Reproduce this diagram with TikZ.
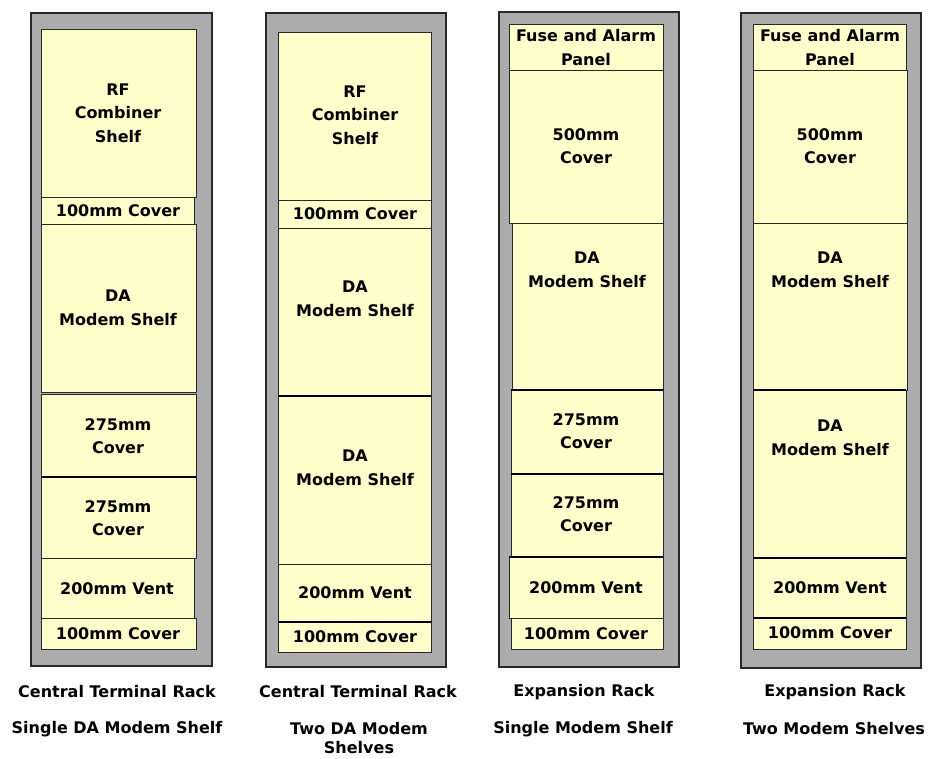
\documentclass[tikz,border=0pt]{standalone}
\usepackage{fontspec}
\setmainfont{DejaVu Sans}
\definecolor{rackgray}{RGB}{172,172,172}
\definecolor{shelfyellow}{RGB}{255,255,204}
\definecolor{edge}{RGB}{40,40,40}
\tikzset{
  rackframe/.style={draw=edge, line width=1.4pt, fill=rackgray},
  shelfbox/.style={draw=edge, line width=0.9pt, fill=shelfyellow},
  sepline/.style={draw=black, line width=2pt},
  lbl/.style={align=center, inner sep=0pt, font=\fontsize{16}{23.5}\selectfont\bfseries},
  caption/.style={align=center, inner sep=0pt, font=\fontsize{16}{19}\selectfont\bfseries}
}
\begin{document}
\begin{tikzpicture}[x=1pt,y=-1pt]
\useasboundingbox (0,0) rectangle (931,758);
\fill[white] (0,0) rectangle (931,758);

% ---------- Rack 1 ----------
\draw[rackframe] (31,13) rectangle (212,666);
\draw[shelfbox] (41,29) rectangle (196,197);
\node[lbl] (r1rf) at (118,113) {RF\\Combiner\\Shelf};
\draw[shelfbox] (41,197) rectangle (194,224);
\node[lbl] (r1c100a) at (118,211) {100mm Cover};
\draw[shelfbox] (41,224) rectangle (196,392);
\node[lbl] (r1da) at (118,308) {DA\\Modem Shelf};
\draw[shelfbox] (41,394) rectangle (196,477);
\node[lbl] (r1c275a) at (118,436) {275mm\\Cover};
\draw[shelfbox] (41,477) rectangle (196,558);
\draw[sepline] (41,477) -- (196,477);
\node[lbl] (r1c275b) at (118,518) {275mm\\Cover};
\draw[shelfbox] (41,558) rectangle (194,618);
\node[lbl] (r1vent) at (117,589) {200mm Vent};
\draw[shelfbox] (41,618) rectangle (196,649);
\node[lbl] (r1c100b) at (118,634) {100mm Cover};
\node[caption] (r1cap1) at (117,692) {Central Terminal Rack};
\node[caption] (r1cap2) at (117,729) {Single DA Modem Shelf};

% ---------- Rack 2 ----------
\draw[rackframe] (266,13) rectangle (446,667);
\draw[shelfbox] (278,32) rectangle (431,200);
\node[lbl] (r2rf) at (355,115) {RF\\Combiner\\Shelf};
\draw[shelfbox] (278,200) rectangle (431,228);
\node[lbl] (r2c100a) at (355,214) {100mm Cover};
\draw[shelfbox] (278,228) rectangle (431,396);
\node[lbl] (r2daa) at (355,299) {DA\\Modem Shelf};
\draw[shelfbox] (278,396) rectangle (431,564);
\draw[sepline] (278,396) -- (431,396);
\node[lbl] (r2dab) at (355,468) {DA\\Modem Shelf};
\draw[shelfbox] (278,564) rectangle (431,622);
\node[lbl] (r2vent) at (355,593) {200mm Vent};
\draw[shelfbox] (278,622) rectangle (431,652);
\draw[sepline] (278,622) -- (431,622);
\node[lbl] (r2c100b) at (355,637) {100mm Cover};
\node[caption] (r2cap1) at (358,692) {Central Terminal Rack};
\node[caption] (r2cap2) at (359,738.5) {Two DA Modem\\Shelves};

% ---------- Rack 3 ----------
\draw[rackframe] (499,12) rectangle (679,667);
\draw[shelfbox] (509,24) rectangle (663,70);
\node[lbl] (r3fuse) at (586,47.5) {Fuse and Alarm\\Panel};
\draw[shelfbox] (509,70) rectangle (663,223);
\node[lbl] (r3c500) at (586,146) {500mm\\Cover};
\draw[shelfbox] (512,223) rectangle (663,390);
\node[lbl] (r3da) at (587,270) {DA\\Modem Shelf};
\draw[shelfbox] (511,390) rectangle (663,474);
\draw[sepline] (511,390) -- (663,390);
\node[lbl] (r3c275a) at (586,431) {275mm\\Cover};
\draw[shelfbox] (511,474) rectangle (663,557);
\draw[sepline] (511,474) -- (663,474);
\node[lbl] (r3c275b) at (586,514) {275mm\\Cover};
\draw[shelfbox] (509,557) rectangle (663,618);
\draw[sepline] (509,557) -- (663,557);
\node[lbl] (r3vent) at (586,588) {200mm Vent};
\draw[shelfbox] (511,618) rectangle (663,649);
\node[lbl] (r3c100) at (586,634) {100mm Cover};
\node[caption] (r3cap1) at (584,692) {Expansion Rack};
\node[caption] (r3cap2) at (583,729) {Single Modem Shelf};

% ---------- Rack 4 ----------
\draw[rackframe] (741,13) rectangle (921,668);
\draw[shelfbox] (753,24) rectangle (906,70);
\node[lbl] (r4fuse) at (830,47.5) {Fuse and Alarm\\Panel};
\draw[shelfbox] (753,70) rectangle (907,223);
\node[lbl] (r4c500) at (830,146) {500mm\\Cover};
\draw[shelfbox] (753,223) rectangle (907,390);
\node[lbl] (r4daa) at (830,270) {DA\\Modem Shelf};
\draw[shelfbox] (753,390) rectangle (906,558);
\draw[sepline] (753,390) -- (906,390);
\node[lbl] (r4dab) at (830,438) {DA\\Modem Shelf};
\draw[shelfbox] (753,558) rectangle (906,618);
\draw[sepline] (753,558) -- (906,558);
\node[lbl] (r4vent) at (830,588) {200mm Vent};
\draw[shelfbox] (753,618) rectangle (906,649);
\draw[sepline] (753,618) -- (906,618);
\node[lbl] (r4c100) at (830,633) {100mm Cover};
\node[caption] (r4cap1) at (835,692) {Expansion Rack};
\node[caption] (r4cap2) at (834,729) {Two Modem Shelves};
\end{tikzpicture}
\end{document}
